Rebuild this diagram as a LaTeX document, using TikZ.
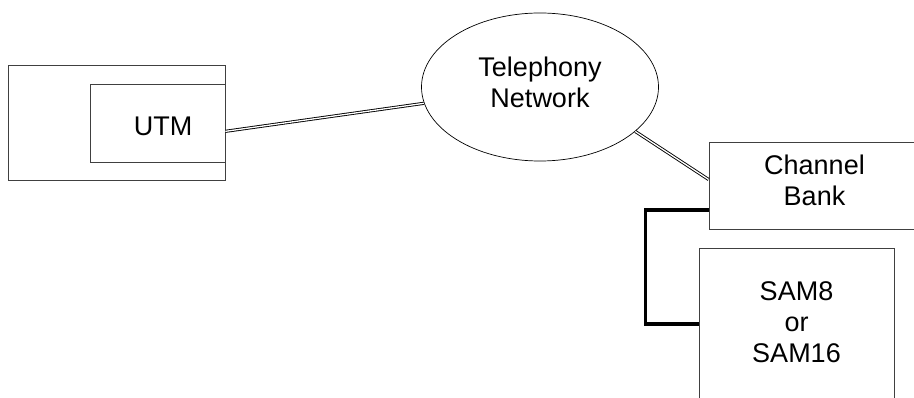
\documentclass[tikz,border=0pt]{standalone}
\usepackage{fontspec}
\setmainfont{Liberation Sans}
\usepackage{tikz}
\usetikzlibrary{positioning, shapes}
\tikzset{
        x=1pt, y=-1pt, % one unit is one pixel of the sketch
        every node/.style={font=\fontsize{27}{31}\selectfont, align=center},
    }
\tikzstyle{unit}=[draw=black!75, line width=0.8pt, rectangle, inner sep=0pt]
\tikzstyle{cloud}=[draw, line width=0.7pt, ellipse, inner sep=0pt]
\tikzstyle{trunk}=[double, double distance=1.3pt, line width=0.9pt]
\tikzstyle{wire}=[line width=3.5pt]

\begin{document}
\begin{tikzpicture}
    \clip (0,0) rectangle (914,398);
    \node[unit, minimum width=217pt, minimum height=115pt] (host) at (116.5,122.5) {};
    \node[unit, minimum width=135pt, minimum height=78pt,
          label={[xshift=5.5pt, yshift=-3pt]center:UTM}] (utm) at (157.5,123) {};
    \node[cloud, minimum width=237pt, minimum height=148pt, text depth=10pt] (net) at (540,87) {Telephony\\Network};
    \node[unit, minimum width=211pt, minimum height=87pt, text depth=10pt] (bank) at (814.5,185.5) {Channel\\Bank};
    \node[unit, minimum width=195pt, minimum height=162pt, text depth=14pt] (sam) at (796.5,329) {SAM8\\or\\SAM16};

    \draw[trunk] (utm.-7.6) -- (net.188);
    \draw[trunk] (net.-25) -- ([yshift=6pt]bank.west);
    \draw[wire] ([yshift=-24.5pt]bank.west) -- ++(-63,0) |- ([yshift=5pt]sam.west);
  \end{tikzpicture}
\end{document}
